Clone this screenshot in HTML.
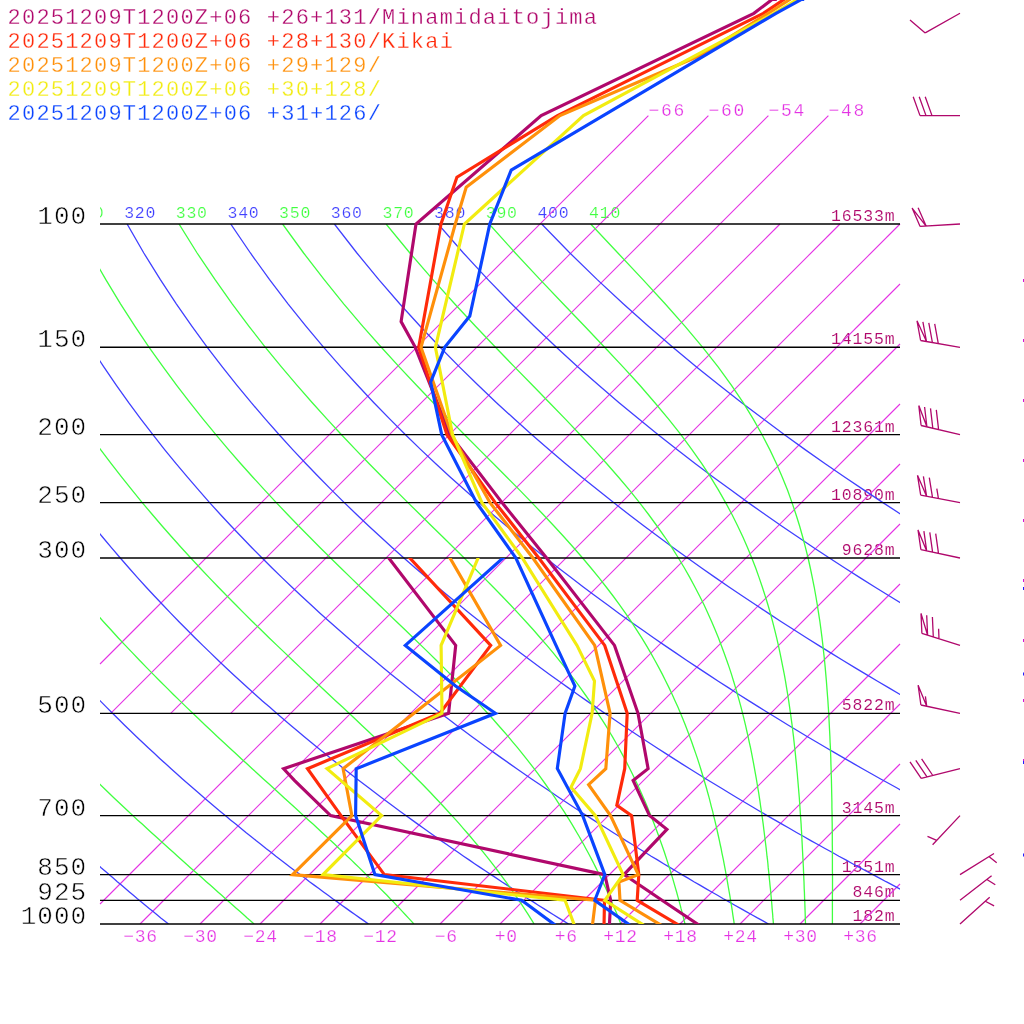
<!DOCTYPE html><html><head><meta charset="utf-8"><title>skewt</title>
<style>html,body{margin:0;padding:0;background:#fff;overflow:hidden}svg{display:block;will-change:transform}text{font-family:"Liberation Mono",monospace;}</style></head><body>
<svg width="1024" height="1024" viewBox="0 0 1024 1024">
<rect width="1024" height="1024" fill="#fff"/>
<defs><clipPath id="box"><rect x="100" y="224" width="800" height="700"/></clipPath><clipPath id="lab"><rect x="100" y="190" width="800" height="40"/></clipPath></defs>
<g clip-path="url(#lab)" font-size="16.5" letter-spacing="0.75" stroke="#fff" stroke-width="0.2"><text x="72.5" y="218" fill="#40ff40">310</text><text x="124.2" y="218" fill="#4040ff">320</text><text x="175.8" y="218" fill="#40ff40">330</text><text x="227.5" y="218" fill="#4040ff">340</text><text x="279.1" y="218" fill="#40ff40">350</text><text x="330.8" y="218" fill="#4040ff">360</text><text x="382.5" y="218" fill="#40ff40">370</text><text x="434.1" y="218" fill="#4040ff">380</text><text x="485.8" y="218" fill="#40ff40">390</text><text x="537.4" y="218" fill="#4040ff">400</text><text x="589.1" y="218" fill="#40ff40">410</text></g>
<g font-size="16.5" letter-spacing="0.85" text-anchor="end" fill="#b0086c" stroke="#fff" stroke-width="0.12"><text x="895.5" y="221.0">16533m</text><text x="895.5" y="344.3">14155m</text><text x="895.5" y="431.7">12361m</text><text x="895.5" y="499.6">10890m</text><text x="895.5" y="555.0">9628m</text><text x="895.5" y="710.3">5822m</text><text x="895.5" y="812.6">3145m</text><text x="895.5" y="871.6">1551m</text><text x="895.5" y="897.3">846m</text><text x="895.5" y="921.0">182m</text></g>
<g fill="none" stroke="#e432e4" stroke-width="1.1"><line x1="100.0" y1="664.0" x2="648.4" y2="115.6"/><line x1="110.7" y1="713.3" x2="708.4" y2="115.6"/><line x1="170.7" y1="713.3" x2="768.4" y2="115.6"/><line x1="230.7" y1="713.3" x2="828.4" y2="115.6"/><line x1="100.0" y1="904.0" x2="780.0" y2="224.0"/><line x1="140.0" y1="924.0" x2="840.0" y2="224.0"/><line x1="200.0" y1="924.0" x2="900.0" y2="224.0"/><line x1="260.0" y1="924.0" x2="900.0" y2="284.0"/><line x1="320.0" y1="924.0" x2="900.0" y2="344.0"/><line x1="380.0" y1="924.0" x2="900.0" y2="404.0"/><line x1="440.0" y1="924.0" x2="900.0" y2="464.0"/><line x1="500.0" y1="924.0" x2="900.0" y2="524.0"/><line x1="560.0" y1="924.0" x2="900.0" y2="584.0"/><line x1="620.0" y1="924.0" x2="900.0" y2="644.0"/><line x1="680.0" y1="924.0" x2="900.0" y2="704.0"/><line x1="740.0" y1="924.0" x2="900.0" y2="764.0"/><line x1="800.0" y1="924.0" x2="900.0" y2="824.0"/><line x1="860.0" y1="924.0" x2="900.0" y2="884.0"/></g>
<g clip-path="url(#box)" fill="none" stroke="#4040ff" stroke-width="1.3"><polyline points="-287.6,224.0 -282.2,253.0 -276.5,279.4 -270.6,303.8 -264.5,326.3 -258.2,347.3 -251.9,366.9 -245.5,385.3 -239.0,402.7 -232.6,419.1 -226.2,434.7 -219.7,449.6 -213.3,463.7 -207.0,477.2 -200.6,490.1 -194.3,502.6 -188.0,514.5 -181.8,526.0 -175.6,537.0 -169.5,547.7 -163.4,558.0 -157.4,568.0 -151.4,577.6 -145.5,587.0 -139.6,596.0 -133.7,604.8 -127.9,613.4 -122.2,621.7 -116.5,629.8 -110.8,637.7 -105.2,645.4 -99.7,652.9 -94.2,660.3 -88.7,667.4 -83.3,674.4 -77.9,681.2 -72.5,687.9 -67.2,694.5 -62.0,700.9 -56.7,707.1 -51.6,713.3 -46.4,719.3 -41.3,725.2 -36.3,731.0 -31.2,736.7 -26.2,742.3 -21.3,747.7 -16.4,753.1 -11.5,758.4 -6.6,763.6 -1.8,768.7 3.0,773.7 7.7,778.7 12.5,783.5 17.1,788.3 21.8,793.0 26.4,797.7 31.0,802.3 35.6,806.8 40.1,811.2 44.6,815.6 49.1,819.9 53.6,824.1 58.0,828.3 62.4,832.5 66.8,836.5 71.1,840.6 75.4,844.5 79.7,848.5 84.0,852.3 88.3,856.2 92.5,859.9 96.7,863.7 100.8,867.4 105.0,871.0 109.1,874.6 113.2,878.1 117.3,881.7 121.4,885.1 125.4,888.6 129.4,892.0 133.4,895.3 137.4,898.7 141.4,901.9 145.3,905.2 149.2,908.4 153.1,911.6 157.0,914.7 160.8,917.9 164.7,920.9 168.5,924.0"/><polyline points="-183.9,224.0 -175.7,253.0 -167.3,279.4 -158.9,303.8 -150.4,326.3 -141.8,347.3 -133.3,366.9 -124.9,385.3 -116.4,402.7 -108.1,419.1 -99.8,434.7 -91.6,449.6 -83.5,463.7 -75.5,477.2 -67.5,490.1 -59.7,502.6 -51.9,514.5 -44.2,526.0 -36.6,537.0 -29.0,547.7 -21.6,558.0 -14.2,568.0 -6.9,577.6 0.3,587.0 7.4,596.0 14.5,604.8 21.5,613.4 28.4,621.7 35.2,629.8 42.0,637.7 48.7,645.4 55.4,652.9 62.0,660.3 68.5,667.4 75.0,674.4 81.4,681.2 87.7,687.9 94.0,694.5 100.2,700.9 106.4,707.1 112.5,713.3 118.6,719.3 124.6,725.2 130.6,731.0 136.5,736.7 142.4,742.3 148.2,747.7 154.0,753.1 159.7,758.4 165.4,763.6 171.1,768.7 176.7,773.7 182.2,778.7 187.7,783.5 193.2,788.3 198.7,793.0 204.1,797.7 209.4,802.3 214.7,806.8 220.0,811.2 225.3,815.6 230.5,819.9 235.7,824.1 240.8,828.3 245.9,832.5 251.0,836.5 256.0,840.6 261.1,844.5 266.0,848.5 271.0,852.3 275.9,856.2 280.8,859.9 285.7,863.7 290.5,867.4 295.3,871.0 300.1,874.6 304.8,878.1 309.5,881.7 314.2,885.1 318.9,888.6 323.5,892.0 328.1,895.3 332.7,898.7 337.3,901.9 341.8,905.2 346.3,908.4 350.8,911.6 355.3,914.7 359.7,917.9 364.1,920.9 368.5,924.0"/><polyline points="-80.2,224.0 -69.2,253.0 -58.1,279.4 -47.2,303.8 -36.2,326.3 -25.5,347.3 -14.8,366.9 -4.2,385.3 6.1,402.7 16.4,419.1 26.5,434.7 36.5,449.6 46.3,463.7 56.0,477.2 65.6,490.1 75.0,502.6 84.3,514.5 93.5,526.0 102.5,537.0 111.4,547.7 120.3,558.0 129.0,568.0 137.5,577.6 146.0,587.0 154.4,596.0 162.7,604.8 170.9,613.4 179.0,621.7 187.0,629.8 194.9,637.7 202.7,645.4 210.5,652.9 218.1,660.3 225.7,667.4 233.2,674.4 240.6,681.2 248.0,687.9 255.2,694.5 262.4,700.9 269.6,707.1 276.6,713.3 283.6,719.3 290.6,725.2 297.5,731.0 304.3,736.7 311.0,742.3 317.7,747.7 324.3,753.1 330.9,758.4 337.5,763.6 343.9,768.7 350.3,773.7 356.7,778.7 363.0,783.5 369.3,788.3 375.5,793.0 381.7,797.7 387.8,802.3 393.9,806.8 399.9,811.2 405.9,815.6 411.9,819.9 417.8,824.1 423.6,828.3 429.5,832.5 435.2,836.5 441.0,840.6 446.7,844.5 452.4,848.5 458.0,852.3 463.6,856.2 469.1,859.9 474.6,863.7 480.1,867.4 485.6,871.0 491.0,874.6 496.4,878.1 501.7,881.7 507.0,885.1 512.3,888.6 517.6,892.0 522.8,895.3 528.0,898.7 533.2,901.9 538.3,905.2 543.4,908.4 548.5,911.6 553.5,914.7 558.5,917.9 563.5,920.9 568.5,924.0"/><polyline points="23.4,224.0 37.3,253.0 51.0,279.4 64.6,303.8 77.9,326.3 90.9,347.3 103.8,366.9 116.4,385.3 128.7,402.7 140.9,419.1 152.9,434.7 164.6,449.6 176.1,463.7 187.5,477.2 198.7,490.1 209.6,502.6 220.4,514.5 231.1,526.0 241.6,537.0 251.9,547.7 262.1,558.0 272.1,568.0 282.0,577.6 291.8,587.0 301.4,596.0 310.9,604.8 320.3,613.4 329.6,621.7 338.7,629.8 347.8,637.7 356.7,645.4 365.5,652.9 374.3,660.3 382.9,667.4 391.4,674.4 399.9,681.2 408.2,687.9 416.5,694.5 424.6,700.9 432.7,707.1 440.7,713.3 448.7,719.3 456.5,725.2 464.3,731.0 472.0,736.7 479.6,742.3 487.2,747.7 494.7,753.1 502.1,758.4 509.5,763.6 516.8,768.7 524.0,773.7 531.2,778.7 538.3,783.5 545.4,788.3 552.4,793.0 559.3,797.7 566.2,802.3 573.0,806.8 579.8,811.2 586.6,815.6 593.2,819.9 599.9,824.1 606.5,828.3 613.0,832.5 619.5,836.5 625.9,840.6 632.3,844.5 638.7,848.5 645.0,852.3 651.2,856.2 657.5,859.9 663.6,863.7 669.8,867.4 675.9,871.0 681.9,874.6 688.0,878.1 693.9,881.7 699.9,885.1 705.8,888.6 711.7,892.0 717.5,895.3 723.3,898.7 729.1,901.9 734.8,905.2 740.5,908.4 746.2,911.6 751.8,914.7 757.4,917.9 763.0,920.9 768.5,924.0"/><polyline points="127.1,224.0 143.8,253.0 160.2,279.4 176.3,303.8 192.0,326.3 207.3,347.3 222.3,366.9 237.0,385.3 251.3,402.7 265.4,419.1 279.2,434.7 292.7,449.6 306.0,463.7 319.0,477.2 331.7,490.1 344.3,502.6 356.6,514.5 368.7,526.0 380.7,537.0 392.4,547.7 403.9,558.0 415.3,568.0 426.5,577.6 437.5,587.0 448.4,596.0 459.1,604.8 469.7,613.4 480.2,621.7 490.5,629.8 500.6,637.7 510.7,645.4 520.6,652.9 530.4,660.3 540.1,667.4 549.6,674.4 559.1,681.2 568.4,687.9 577.7,694.5 586.8,700.9 595.9,707.1 604.8,713.3 613.7,719.3 622.5,725.2 631.2,731.0 639.8,736.7 648.3,742.3 656.7,747.7 665.1,753.1 673.3,758.4 681.5,763.6 689.7,768.7 697.7,773.7 705.7,778.7 713.6,783.5 721.5,788.3 729.2,793.0 737.0,797.7 744.6,802.3 752.2,806.8 759.7,811.2 767.2,815.6 774.6,819.9 782.0,824.1 789.3,828.3 796.5,832.5 803.7,836.5 810.8,840.6 817.9,844.5 825.0,848.5 832.0,852.3 838.9,856.2 845.8,859.9 852.6,863.7 859.4,867.4 866.2,871.0 872.9,874.6 879.5,878.1 886.1,881.7 892.7,885.1 899.2,888.6 905.7,892.0 912.2,895.3 918.6,898.7 925.0,901.9 931.3,905.2 937.6,908.4 943.8,911.6 950.1,914.7 956.2,917.9 962.4,920.9 968.5,924.0"/><polyline points="230.7,224.0 250.4,253.0 269.4,279.4 288.0,303.8 306.1,326.3 323.7,347.3 340.8,366.9 357.6,385.3 373.9,402.7 389.9,419.1 405.5,434.7 420.8,449.6 435.8,463.7 450.4,477.2 464.8,490.1 478.9,502.6 492.8,514.5 506.4,526.0 519.7,537.0 532.9,547.7 545.8,558.0 558.5,568.0 571.0,577.6 583.3,587.0 595.4,596.0 607.4,604.8 619.1,613.4 630.7,621.7 642.2,629.8 653.5,637.7 664.6,645.4 675.7,652.9 686.5,660.3 697.3,667.4 707.9,674.4 718.3,681.2 728.7,687.9 738.9,694.5 749.0,700.9 759.0,707.1 768.9,713.3 778.7,719.3 788.4,725.2 798.0,731.0 807.5,736.7 816.9,742.3 826.2,747.7 835.4,753.1 844.5,758.4 853.6,763.6 862.5,768.7 871.4,773.7 880.2,778.7 888.9,783.5 897.5,788.3 906.1,793.0 914.6,797.7 923.0,802.3 931.4,806.8 939.6,811.2 947.8,815.6 956.0,819.9 964.1,824.1 972.1,828.3 980.0,832.5 987.9,836.5 995.8,840.6 1003.6,844.5 1011.3,848.5 1018.9,852.3 1026.5,856.2 1034.1,859.9 1041.6,863.7 1049.1,867.4 1056.5,871.0 1063.8,874.6 1071.1,878.1 1078.3,881.7 1085.5,885.1 1092.7,888.6 1099.8,892.0 1106.9,895.3 1113.9,898.7 1120.9,901.9 1127.8,905.2 1134.7,908.4 1141.5,911.6 1148.3,914.7 1155.1,917.9 1161.8,920.9 1168.5,924.0"/><polyline points="334.4,224.0 356.9,253.0 378.6,279.4 399.7,303.8 420.2,326.3 440.1,347.3 459.4,366.9 478.2,385.3 496.5,402.7 514.4,419.1 531.9,434.7 548.9,449.6 565.6,463.7 581.9,477.2 597.9,490.1 613.6,502.6 628.9,514.5 644.0,526.0 658.8,537.0 673.3,547.7 687.6,558.0 701.6,568.0 715.4,577.6 729.0,587.0 742.4,596.0 755.6,604.8 768.6,613.4 781.3,621.7 793.9,629.8 806.4,637.7 818.6,645.4 830.7,652.9 842.7,660.3 854.4,667.4 866.1,674.4 877.6,681.2 888.9,687.9 900.1,694.5 911.2,700.9 922.2,707.1 933.0,713.3 943.8,719.3 954.4,725.2 964.9,731.0 975.2,736.7 985.5,742.3 995.7,747.7 1005.8,753.1 1015.7,758.4 1025.6,763.6 1035.4,768.7 1045.1,773.7 1054.7,778.7 1064.2,783.5 1073.6,788.3 1083.0,793.0 1092.2,797.7 1101.4,802.3 1110.5,806.8 1119.5,811.2 1128.5,815.6 1137.4,819.9 1146.2,824.1 1154.9,828.3 1163.6,832.5 1172.2,836.5 1180.7,840.6 1189.2,844.5 1197.6,848.5 1205.9,852.3 1214.2,856.2 1222.4,859.9 1230.6,863.7 1238.7,867.4 1246.7,871.0 1254.7,874.6 1262.7,878.1 1270.6,881.7 1278.4,885.1 1286.2,888.6 1293.9,892.0 1301.6,895.3 1309.2,898.7 1316.8,901.9 1324.3,905.2 1331.8,908.4 1339.2,911.6 1346.6,914.7 1353.9,917.9 1361.2,920.9 1368.5,924.0"/><polyline points="438.1,224.0 463.4,253.0 487.8,279.4 511.5,303.8 534.3,326.3 556.4,347.3 577.9,366.9 598.8,385.3 619.1,402.7 638.9,419.1 658.2,434.7 677.0,449.6 695.4,463.7 713.4,477.2 731.0,490.1 748.2,502.6 765.1,514.5 781.6,526.0 797.9,537.0 813.8,547.7 829.4,558.0 844.8,568.0 859.9,577.6 874.8,587.0 889.4,596.0 903.8,604.8 918.0,613.4 931.9,621.7 945.7,629.8 959.2,637.7 972.6,645.4 985.8,652.9 998.8,660.3 1011.6,667.4 1024.3,674.4 1036.8,681.2 1049.2,687.9 1061.4,694.5 1073.4,700.9 1085.4,707.1 1097.1,713.3 1108.8,719.3 1120.3,725.2 1131.7,731.0 1143.0,736.7 1154.2,742.3 1165.2,747.7 1176.1,753.1 1186.9,758.4 1197.7,763.6 1208.3,768.7 1218.8,773.7 1229.2,778.7 1239.5,783.5 1249.7,788.3 1259.8,793.0 1269.9,797.7 1279.8,802.3 1289.7,806.8 1299.4,811.2 1309.1,815.6 1318.7,819.9 1328.3,824.1 1337.7,828.3 1347.1,832.5 1356.4,836.5 1365.6,840.6 1374.8,844.5 1383.9,848.5 1392.9,852.3 1401.9,856.2 1410.8,859.9 1419.6,863.7 1428.3,867.4 1437.0,871.0 1445.7,874.6 1454.2,878.1 1462.8,881.7 1471.2,885.1 1479.6,888.6 1488.0,892.0 1496.2,895.3 1504.5,898.7 1512.7,901.9 1520.8,905.2 1528.9,908.4 1536.9,911.6 1544.9,914.7 1552.8,917.9 1560.7,920.9 1568.5,924.0"/><polyline points="541.7,224.0 569.9,253.0 597.0,279.4 623.2,303.8 648.4,326.3 672.8,347.3 696.5,366.9 719.4,385.3 741.7,402.7 763.4,419.1 784.5,434.7 805.1,449.6 825.2,463.7 844.9,477.2 864.1,490.1 882.9,502.6 901.3,514.5 919.3,526.0 936.9,537.0 954.3,547.7 971.3,558.0 988.0,568.0 1004.4,577.6 1020.5,587.0 1036.4,596.0 1052.0,604.8 1067.4,613.4 1082.5,621.7 1097.4,629.8 1112.1,637.7 1126.6,645.4 1140.8,652.9 1154.9,660.3 1168.8,667.4 1182.5,674.4 1196.1,681.2 1209.4,687.9 1222.6,694.5 1235.6,700.9 1248.5,707.1 1261.2,713.3 1273.8,719.3 1286.3,725.2 1298.6,731.0 1310.7,736.7 1322.8,742.3 1334.7,747.7 1346.5,753.1 1358.1,758.4 1369.7,763.6 1381.1,768.7 1392.5,773.7 1403.7,778.7 1414.8,783.5 1425.8,788.3 1436.7,793.0 1447.5,797.7 1458.2,802.3 1468.8,806.8 1479.3,811.2 1489.8,815.6 1500.1,819.9 1510.4,824.1 1520.5,828.3 1530.6,832.5 1540.6,836.5 1550.6,840.6 1560.4,844.5 1570.2,848.5 1579.9,852.3 1589.5,856.2 1599.1,859.9 1608.6,863.7 1618.0,867.4 1627.3,871.0 1636.6,874.6 1645.8,878.1 1655.0,881.7 1664.1,885.1 1673.1,888.6 1682.0,892.0 1690.9,895.3 1699.8,898.7 1708.6,901.9 1717.3,905.2 1726.0,908.4 1734.6,911.6 1743.1,914.7 1751.6,917.9 1760.1,920.9 1768.5,924.0"/></g>
<g clip-path="url(#box)" fill="none" stroke="#40ff40" stroke-width="1.3"><polyline points="-31.5,224.0 -60.5,253.0 -86.9,279.4 -111.3,303.8 -133.8,326.3 -154.8,347.3 -174.4,366.9 -185.1,385.3 -177.7,402.7 -170.3,419.1 -163.0,434.7 -155.6,449.6 -148.4,463.7 -141.2,477.2 -134.0,490.1 -127.0,502.6 -119.9,514.5 -113.0,526.0 -106.1,537.0 -99.2,547.7 -92.5,558.0 -85.8,568.0 -79.1,577.6 -72.6,587.0 -66.1,596.0 -59.6,604.8 -53.2,613.4 -46.9,621.7 -40.6,629.8 -34.4,637.7 -28.3,645.4 -22.2,652.9 -16.1,660.3 -10.1,667.4 -4.2,674.4 1.7,681.2 7.5,687.9 13.3,694.5 19.0,700.9 24.7,707.1 30.3,713.3 35.8,719.3 41.4,725.2 46.8,731.0 52.3,736.7 57.7,742.3 63.0,747.7 68.3,753.1 73.5,758.4 78.7,763.6 83.9,768.7 89.0,773.7 94.0,778.7 99.0,783.5 104.0,788.3 108.9,793.0 113.8,797.7 118.6,802.3 123.4,806.8 128.2,811.2 132.9,815.6 137.5,819.9 142.2,824.1 146.7,828.3 151.3,832.5 155.8,836.5 160.2,840.6 164.6,844.5 169.0,848.5 173.3,852.3 177.6,856.2 181.8,859.9 186.0,863.7 190.1,867.4 194.2,871.0 198.3,874.6 202.3,878.1 206.3,881.7 210.2,885.1 214.1,888.6 217.9,892.0 221.7,895.3 225.5,898.7 229.2,901.9 232.9,905.2 236.5,908.4 240.1,911.6 243.7,914.7 247.2,917.9 250.7,920.9 254.1,924.0"/><polyline points="-31.5,224.0 -60.5,253.0 -86.9,279.4 -103.0,303.8 -93.3,326.3 -83.6,347.3 -74.0,366.9 -64.5,385.3 -55.1,402.7 -45.8,419.1 -36.6,434.7 -27.5,449.6 -18.6,463.7 -9.7,477.2 -1.0,490.1 7.7,502.6 16.2,514.5 24.6,526.0 33.0,537.0 41.2,547.7 49.3,558.0 57.3,568.0 65.3,577.6 73.1,587.0 80.8,596.0 88.5,604.8 96.0,613.4 103.5,621.7 110.9,629.8 118.1,637.7 125.3,645.4 132.5,652.9 139.5,660.3 146.4,667.4 153.3,674.4 160.1,681.2 166.8,687.9 173.4,694.5 180.0,700.9 186.4,707.1 192.8,713.3 199.1,719.3 205.3,725.2 211.5,731.0 217.5,736.7 223.5,742.3 229.4,747.7 235.2,753.1 241.0,758.4 246.6,763.6 252.2,768.7 257.7,773.7 263.1,778.7 268.5,783.5 273.7,788.3 278.9,793.0 284.0,797.7 289.0,802.3 294.0,806.8 298.9,811.2 303.6,815.6 308.3,819.9 313.0,824.1 317.5,828.3 322.0,832.5 326.4,836.5 330.7,840.6 335.0,844.5 339.1,848.5 343.2,852.3 347.3,856.2 351.2,859.9 355.1,863.7 358.9,867.4 362.6,871.0 366.3,874.6 369.9,878.1 373.5,881.7 376.9,885.1 380.3,888.6 383.7,892.0 387.0,895.3 390.2,898.7 393.4,901.9 396.5,905.2 399.5,908.4 402.5,911.6 405.4,914.7 408.3,917.9 411.1,920.9 413.9,924.0"/><polyline points="-28.4,224.0 -15.9,253.0 -3.5,279.4 8.7,303.8 20.8,326.3 32.8,347.3 44.5,366.9 56.1,385.3 67.5,402.7 78.7,419.1 89.7,434.7 100.6,449.6 111.2,463.7 121.7,477.2 132.1,490.1 142.2,502.6 152.3,514.5 162.1,526.0 171.8,537.0 181.4,547.7 190.8,558.0 200.1,568.0 209.2,577.6 218.2,587.0 227.0,596.0 235.7,604.8 244.2,613.4 252.6,621.7 260.9,629.8 269.0,637.7 277.0,645.4 284.9,652.9 292.6,660.3 300.1,667.4 307.6,674.4 314.8,681.2 322.0,687.9 328.9,694.5 335.8,700.9 342.5,707.1 349.1,713.3 355.5,719.3 361.7,725.2 367.9,731.0 373.9,736.7 379.7,742.3 385.4,747.7 391.0,753.1 396.5,758.4 401.8,763.6 406.9,768.7 412.0,773.7 416.9,778.7 421.7,783.5 426.3,788.3 430.9,793.0 435.3,797.7 439.6,802.3 443.8,806.8 447.9,811.2 451.9,815.6 455.8,819.9 459.6,824.1 463.2,828.3 466.8,832.5 470.3,836.5 473.7,840.6 477.0,844.5 480.2,848.5 483.4,852.3 486.4,856.2 489.4,859.9 492.3,863.7 495.2,867.4 497.9,871.0 500.6,874.6 503.2,878.1 505.8,881.7 508.3,885.1 510.7,888.6 513.1,892.0 515.4,895.3 517.7,898.7 519.9,901.9 522.1,905.2 524.2,908.4 526.3,911.6 528.3,914.7 530.3,917.9 532.2,920.9 534.1,924.0"/><polyline points="75.3,224.0 90.6,253.0 105.7,279.4 120.5,303.8 135.0,326.3 149.1,347.3 163.1,366.9 176.7,385.3 190.0,402.7 203.1,419.1 215.9,434.7 228.5,449.6 240.8,463.7 252.9,477.2 264.7,490.1 276.3,502.6 287.6,514.5 298.7,526.0 309.6,537.0 320.2,547.7 330.6,558.0 340.8,568.0 350.7,577.6 360.3,587.0 369.8,596.0 378.9,604.8 387.9,613.4 396.6,621.7 405.0,629.8 413.2,637.7 421.1,645.4 428.8,652.9 436.3,660.3 443.5,667.4 450.5,674.4 457.2,681.2 463.7,687.9 470.0,694.5 476.1,700.9 482.0,707.1 487.6,713.3 493.1,719.3 498.3,725.2 503.4,731.0 508.3,736.7 513.0,742.3 517.5,747.7 521.9,753.1 526.1,758.4 530.2,763.6 534.1,768.7 537.9,773.7 541.5,778.7 545.0,783.5 548.4,788.3 551.7,793.0 554.9,797.7 558.0,802.3 560.9,806.8 563.8,811.2 566.6,815.6 569.3,819.9 571.9,824.1 574.4,828.3 576.8,832.5 579.2,836.5 581.5,840.6 583.7,844.5 585.8,848.5 587.9,852.3 590.0,856.2 591.9,859.9 593.9,863.7 595.7,867.4 597.5,871.0 599.3,874.6 601.0,878.1 602.7,881.7 604.3,885.1 605.9,888.6 607.4,892.0 608.9,895.3 610.4,898.7 611.8,901.9 613.2,905.2 614.5,908.4 615.9,911.6 617.2,914.7 618.4,917.9 619.7,920.9 620.9,924.0"/><polyline points="179.0,224.0 197.1,253.0 214.9,279.4 232.2,303.8 249.0,326.3 265.4,347.3 281.4,366.9 297.1,385.3 312.3,402.7 327.1,419.1 341.5,434.7 355.6,449.6 369.2,463.7 382.5,477.2 395.4,490.1 407.9,502.6 420.0,514.5 431.6,526.0 442.9,537.0 453.8,547.7 464.2,558.0 474.2,568.0 483.8,577.6 493.1,587.0 501.9,596.0 510.3,604.8 518.3,613.4 526.0,621.7 533.3,629.8 540.2,637.7 546.9,645.4 553.2,652.9 559.2,660.3 564.9,667.4 570.3,674.4 575.5,681.2 580.4,687.9 585.1,694.5 589.6,700.9 593.8,707.1 597.9,713.3 601.8,719.3 605.5,725.2 609.0,731.0 612.4,736.7 615.6,742.3 618.7,747.7 621.6,753.1 624.5,758.4 627.2,763.6 629.8,768.7 632.3,773.7 634.7,778.7 637.0,783.5 639.2,788.3 641.3,793.0 643.4,797.7 645.4,802.3 647.3,806.8 649.1,811.2 650.9,815.6 652.6,819.9 654.2,824.1 655.8,828.3 657.4,832.5 658.9,836.5 660.3,840.6 661.7,844.5 663.1,848.5 664.4,852.3 665.7,856.2 666.9,859.9 668.1,863.7 669.3,867.4 670.4,871.0 671.5,874.6 672.6,878.1 673.6,881.7 674.6,885.1 675.6,888.6 676.6,892.0 677.5,895.3 678.4,898.7 679.3,901.9 680.2,905.2 681.0,908.4 681.9,911.6 682.7,914.7 683.5,917.9 684.2,920.9 685.0,924.0"/><polyline points="282.6,224.0 303.6,253.0 324.0,279.4 343.7,303.8 362.8,326.3 381.3,347.3 399.2,366.9 416.5,385.3 433.2,402.7 449.2,419.1 464.6,434.7 479.4,449.6 493.5,463.7 506.9,477.2 519.7,490.1 531.8,502.6 543.2,514.5 554.0,526.0 564.1,537.0 573.7,547.7 582.6,558.0 591.0,568.0 598.9,577.6 606.2,587.0 613.1,596.0 619.6,604.8 625.6,613.4 631.3,621.7 636.6,629.8 641.6,637.7 646.3,645.4 650.7,652.9 654.8,660.3 658.7,667.4 662.4,674.4 665.8,681.2 669.1,687.9 672.2,694.5 675.1,700.9 677.9,707.1 680.5,713.3 683.0,719.3 685.4,725.2 687.6,731.0 689.8,736.7 691.8,742.3 693.7,747.7 695.6,753.1 697.4,758.4 699.1,763.6 700.7,768.7 702.2,773.7 703.7,778.7 705.1,783.5 706.5,788.3 707.8,793.0 709.1,797.7 710.3,802.3 711.4,806.8 712.6,811.2 713.6,815.6 714.7,819.9 715.7,824.1 716.7,828.3 717.6,832.5 718.5,836.5 719.4,840.6 720.2,844.5 721.1,848.5 721.8,852.3 722.6,856.2 723.4,859.9 724.1,863.7 724.8,867.4 725.5,871.0 726.1,874.6 726.8,878.1 727.4,881.7 728.0,885.1 728.6,888.6 729.2,892.0 729.8,895.3 730.3,898.7 730.8,901.9 731.4,905.2 731.9,908.4 732.4,911.6 732.8,914.7 733.3,917.9 733.8,920.9 734.2,924.0"/><polyline points="386.1,224.0 409.9,253.0 432.7,279.4 454.6,303.8 475.5,326.3 495.5,347.3 514.5,366.9 532.5,385.3 549.5,402.7 565.4,419.1 580.2,434.7 594.0,449.6 606.8,463.7 618.6,477.2 629.5,490.1 639.5,502.6 648.6,514.5 657.0,526.0 664.8,537.0 671.9,547.7 678.4,558.0 684.4,568.0 689.9,577.6 694.9,587.0 699.6,596.0 704.0,604.8 708.0,613.4 711.7,621.7 715.1,629.8 718.4,637.7 721.3,645.4 724.1,652.9 726.7,660.3 729.2,667.4 731.5,674.4 733.6,681.2 735.6,687.9 737.5,694.5 739.3,700.9 741.0,707.1 742.6,713.3 744.1,719.3 745.5,725.2 746.8,731.0 748.1,736.7 749.3,742.3 750.5,747.7 751.6,753.1 752.6,758.4 753.6,763.6 754.5,768.7 755.4,773.7 756.3,778.7 757.1,783.5 757.9,788.3 758.7,793.0 759.4,797.7 760.1,802.3 760.7,806.8 761.4,811.2 762.0,815.6 762.6,819.9 763.2,824.1 763.7,828.3 764.2,832.5 764.7,836.5 765.2,840.6 765.7,844.5 766.2,848.5 766.6,852.3 767.0,856.2 767.5,859.9 767.9,863.7 768.2,867.4 768.6,871.0 769.0,874.6 769.3,878.1 769.7,881.7 770.0,885.1 770.4,888.6 770.7,892.0 771.0,895.3 771.3,898.7 771.6,901.9 771.9,905.2 772.1,908.4 772.4,911.6 772.7,914.7 772.9,917.9 773.2,920.9 773.4,924.0"/><polyline points="489.2,224.0 515.3,253.0 539.9,279.4 563.1,303.8 584.7,326.3 604.6,347.3 623.0,366.9 639.8,385.3 654.9,402.7 668.6,419.1 680.9,434.7 691.9,449.6 701.8,463.7 710.6,477.2 718.5,490.1 725.6,502.6 732.0,514.5 737.7,526.0 742.9,537.0 747.6,547.7 751.8,558.0 755.7,568.0 759.1,577.6 762.3,587.0 765.2,596.0 767.9,604.8 770.4,613.4 772.6,621.7 774.7,629.8 776.6,637.7 778.4,645.4 780.0,652.9 781.5,660.3 782.9,667.4 784.3,674.4 785.5,681.2 786.6,687.9 787.7,694.5 788.7,700.9 789.6,707.1 790.5,713.3 791.3,719.3 792.1,725.2 792.8,731.0 793.5,736.7 794.1,742.3 794.7,747.7 795.3,753.1 795.8,758.4 796.4,763.6 796.8,768.7 797.3,773.7 797.7,778.7 798.1,783.5 798.5,788.3 798.9,793.0 799.3,797.7 799.6,802.3 799.9,806.8 800.2,811.2 800.5,815.6 800.8,819.9 801.1,824.1 801.3,828.3 801.6,832.5 801.8,836.5 802.0,840.6 802.2,844.5 802.4,848.5 802.6,852.3 802.8,856.2 803.0,859.9 803.2,863.7 803.4,867.4 803.5,871.0 803.7,874.6 803.8,878.1 804.0,881.7 804.1,885.1 804.2,888.6 804.4,892.0 804.5,895.3 804.6,898.7 804.8,901.9 804.9,905.2 805.0,908.4 805.1,911.6 805.2,914.7 805.3,917.9 805.4,920.9 805.5,924.0"/><polyline points="590.7,224.0 617.9,253.0 642.7,279.4 665.1,303.8 685.1,326.3 702.7,347.3 718.1,366.9 731.5,385.3 743.2,402.7 753.3,419.1 762.1,434.7 769.8,449.6 776.5,463.7 782.3,477.2 787.5,490.1 792.0,502.6 796.0,514.5 799.6,526.0 802.7,537.0 805.5,547.7 808.1,558.0 810.3,568.0 812.3,577.6 814.2,587.0 815.8,596.0 817.3,604.8 818.6,613.4 819.9,621.7 821.0,629.8 822.0,637.7 822.9,645.4 823.7,652.9 824.5,660.3 825.2,667.4 825.8,674.4 826.4,681.2 826.9,687.9 827.4,694.5 827.9,700.9 828.3,707.1 828.7,713.3 829.0,719.3 829.3,725.2 829.6,731.0 829.9,736.7 830.1,742.3 830.4,747.7 830.6,753.1 830.8,758.4 830.9,763.6 831.1,768.7 831.2,773.7 831.4,778.7 831.5,783.5 831.6,788.3 831.7,793.0 831.8,797.7 831.9,802.3 831.9,806.8 832.0,811.2 832.1,815.6 832.1,819.9 832.2,824.1 832.2,828.3 832.3,832.5 832.3,836.5 832.3,840.6 832.3,844.5 832.4,848.5 832.4,852.3 832.4,856.2 832.4,859.9 832.4,863.7 832.4,867.4 832.4,871.0 832.5,874.6 832.5,878.1 832.5,881.7 832.5,885.1 832.5,888.6 832.5,892.0 832.4,895.3 832.4,898.7 832.4,901.9 832.4,905.2 832.4,908.4 832.4,911.6 832.4,914.7 832.4,917.9 832.4,920.9 832.4,924.0"/></g>
<g stroke="#000" stroke-width="1.3"><line x1="100" y1="224.00" x2="900" y2="224.00"/><line x1="100" y1="347.26" x2="900" y2="347.26"/><line x1="100" y1="434.72" x2="900" y2="434.72"/><line x1="100" y1="502.56" x2="900" y2="502.56"/><line x1="100" y1="557.98" x2="900" y2="557.98"/><line x1="100" y1="713.28" x2="900" y2="713.28"/><line x1="100" y1="815.57" x2="900" y2="815.57"/><line x1="100" y1="874.59" x2="900" y2="874.59"/><line x1="100" y1="900.30" x2="900" y2="900.30"/><line x1="100" y1="924.00" x2="900" y2="924.00"/></g>
<g font-size="26" letter-spacing="1.0" text-anchor="end" fill="#000" stroke="#fff" stroke-width="0.55"><text x="87.1" y="224.0">100</text><text x="87.1" y="347.3">150</text><text x="87.1" y="434.7">200</text><text x="87.1" y="502.6">250</text><text x="87.1" y="558.0">300</text><text x="87.1" y="713.3">500</text><text x="87.1" y="815.6">700</text><text x="87.1" y="874.6">850</text><text x="87.1" y="900.3">925</text><text x="87.1" y="924.0">1000</text></g>
<g font-size="18" letter-spacing="0.7" text-anchor="end" fill="#e432e4" stroke="#fff" stroke-width="0.25"><text x="157.8" y="942">−36</text><text x="217.8" y="942">−30</text><text x="277.8" y="942">−24</text><text x="337.8" y="942">−18</text><text x="397.8" y="942">−12</text><text x="457.8" y="942">−6</text><text x="517.8" y="942">+0</text><text x="577.8" y="942">+6</text><text x="637.8" y="942">+12</text><text x="697.8" y="942">+18</text><text x="757.8" y="942">+24</text><text x="817.8" y="942">+30</text><text x="877.8" y="942">+36</text></g>
<g font-size="18" letter-spacing="1.7" fill="#e432e4" stroke="#fff" stroke-width="0.25"><text x="648.5" y="116">−66</text><text x="708.5" y="116">−60</text><text x="768.5" y="116">−54</text><text x="828.5" y="116">−48</text></g>
<defs><clipPath id="cT"><rect x="0" y="-50" width="1024" height="974"/></clipPath><clipPath id="cD"><rect x="0" y="557.98" width="1024" height="366.02"/></clipPath></defs>
<polyline clip-path="url(#cT)" fill="none" stroke="#b0086c" stroke-width="3.15" stroke-linejoin="miter" points="797.8,-20.0 753.9,13.3 541.2,115.6 416.0,224.0 401.1,321.6 415.3,347.3 450.0,434.7 502.0,502.6 546.6,558.0 614.5,645.4 638.0,713.3 648.1,768.7 633.1,780.4 649.5,815.6 666.9,829.3 624.0,874.6 662.0,900.3 699.9,925.7"/>
<polyline clip-path="url(#cD)" fill="none" stroke="#b0086c" stroke-width="3.15" stroke-linejoin="miter" points="386.9,555.6 455.7,645.4 448.6,713.3 283.6,768.7 294.4,780.4 330.6,815.6 604.8,874.6 610.7,900.3 609.3,927.0"/>
<polyline clip-path="url(#cT)" fill="none" stroke="#ff2a0a" stroke-width="3.15" stroke-linejoin="miter" points="813.0,-20.0 763.3,13.3 557.5,115.6 456.9,177.2 441.0,224.0 418.7,347.3 447.0,434.7 495.2,502.6 538.8,558.0 604.7,645.4 627.2,713.3 624.7,768.7 616.8,805.3 631.6,815.6 638.8,874.6 637.2,900.3 679.4,925.5"/>
<polyline clip-path="url(#cD)" fill="none" stroke="#ff2a0a" stroke-width="3.15" stroke-linejoin="miter" points="407.8,555.8 490.7,645.4 440.0,713.3 307.5,768.7 341.0,815.6 384.3,874.6 604.5,900.3 604.0,927.0"/>
<polyline clip-path="url(#cT)" fill="none" stroke="#ff900a" stroke-width="3.15" stroke-linejoin="miter" points="820.0,-20.0 768.3,13.3 700.0,55.5 560.0,115.6 466.2,187.3 455.3,224.0 421.0,347.3 451.7,434.7 490.0,502.6 532.9,558.0 594.7,645.4 610.1,713.3 605.8,768.7 588.6,784.7 610.5,815.6 638.3,874.6 618.9,882.0 620.0,900.3 661.8,925.6"/>
<polyline clip-path="url(#cD)" fill="none" stroke="#ff900a" stroke-width="3.15" stroke-linejoin="miter" points="448.5,555.4 500.6,645.4 414.0,713.3 343.1,768.7 351.9,815.6 292.5,874.6 595.5,900.3 592.2,927.0"/>
<polyline clip-path="url(#cT)" fill="none" stroke="#f2ec10" stroke-width="3.15" stroke-linejoin="miter" points="830.0,-20.0 774.0,13.3 583.5,115.6 464.4,224.0 435.4,347.3 452.6,434.7 481.9,502.6 522.3,558.0 577.0,645.4 594.5,681.0 592.1,713.3 580.4,768.7 571.0,787.2 595.4,815.6 623.1,874.6 604.8,900.3 644.4,925.6"/>
<polyline clip-path="url(#cD)" fill="none" stroke="#f2ec10" stroke-width="3.15" stroke-linejoin="miter" points="479.3,555.2 441.1,645.4 442.0,713.3 327.0,768.7 381.6,815.6 323.0,874.6 565.0,900.3 575.0,926.8"/>
<polyline clip-path="url(#cT)" fill="none" stroke="#0a44ff" stroke-width="3.15" stroke-linejoin="miter" points="837.0,-20.0 776.0,13.3 603.2,115.6 511.2,170.2 489.8,224.0 469.8,316.1 444.7,347.3 430.6,382.2 441.7,434.7 476.5,502.6 515.9,558.0 556.0,645.4 574.9,686.0 565.1,713.3 557.3,768.5 582.7,815.6 604.8,874.6 594.8,900.3 630.7,925.7"/>
<polyline clip-path="url(#cD)" fill="none" stroke="#0a44ff" stroke-width="3.15" stroke-linejoin="miter" points="505.2,556.0 405.3,645.4 455.6,686.0 495.5,713.3 356.2,768.7 355.6,815.6 374.9,874.6 521.6,900.3 556.2,925.8"/>
<rect x="772" y="0" width="4.8" height="1" fill="#b0086c"/><rect x="800" y="0" width="4.2" height="1" fill="#0a44ff"/>
<path fill="none" stroke="#b0086c" stroke-width="1.3" d="M960.0,13.3 L925.2,32.9 M925.2,32.9 L910.0,19.9 M960.0,115.6 L920.0,115.6 M920.0,115.6 L913.2,96.8 M926.0,115.6 L919.2,96.8 M932.0,115.6 L925.2,96.8 M960.0,224.0 L920.1,226.4 M920.1,226.4 L912.1,208.1 L926.1,226.1 M926.1,226.1 L918.1,207.7 M960.0,347.3 L920.6,340.5 M920.6,340.5 L917.0,320.8 L926.5,341.5 M926.5,341.5 L922.9,321.9 M932.4,342.5 L928.8,322.9 M938.3,343.6 L934.7,323.9 M960.0,434.7 L921.1,425.5 M921.1,425.5 L918.8,405.6 L926.9,426.8 M926.9,426.8 L924.6,407.0 M932.8,428.2 L930.5,408.4 M938.6,429.6 L936.3,409.8 M960.0,502.6 L920.7,495.1 M920.7,495.1 L917.5,475.3 L926.6,496.2 M926.6,496.2 L923.4,476.4 M932.5,497.3 L929.3,477.6 M938.4,498.4 L936.8,488.6 M960.0,558.0 L920.9,549.7 M920.9,549.7 L918.0,529.9 L926.7,551.0 M926.7,551.0 L923.9,531.2 M932.6,552.2 L929.8,532.4 M938.5,553.4 L935.7,533.6 M960.0,645.4 L921.9,633.4 M921.9,633.4 L921.0,613.4 L927.6,635.2 M927.6,635.2 L926.7,615.2 M933.3,637.0 L932.4,617.0 M939.0,638.8 L938.6,628.8 M960.0,713.3 L920.9,705.0 M920.9,705.0 L918.1,685.2 L926.7,706.2 M926.7,706.2 L925.4,696.3 M960.0,768.7 L921.2,778.4 M921.2,778.4 L910.0,761.8 M927.0,776.9 L915.8,760.4 M932.8,775.5 L921.6,758.9 M960.0,815.6 L932.6,844.7 M936.7,840.3 L927.5,836.4 M960.0,874.6 L994.0,853.5 M988.9,856.6 L996.7,862.8 M960.0,900.3 L991.6,875.8 M986.9,879.5 L995.3,884.8 M960.0,924.0 L989.7,897.2 M985.3,901.2 L994.1,905.9"/>
<rect x="1023" y="279.0" width="1" height="3" fill="#d414d4"/><rect x="1023" y="339.0" width="1" height="3" fill="#d414d4"/><rect x="1023" y="399.0" width="1" height="3" fill="#d414d4"/><rect x="1023" y="459.0" width="1" height="3" fill="#d414d4"/><rect x="1023" y="519.0" width="1" height="3" fill="#d414d4"/><rect x="1023" y="579.0" width="1" height="3" fill="#d414d4"/><rect x="1023" y="639.0" width="1" height="3" fill="#d414d4"/><rect x="1023" y="699.0" width="1" height="3" fill="#d414d4"/><rect x="1023" y="759.0" width="1" height="3" fill="#d414d4"/><rect x="1023" y="587.0" width="1" height="3" fill="#2020ff"/><rect x="1023" y="672.5" width="1" height="3" fill="#2020ff"/><rect x="1023" y="761.0" width="1" height="3" fill="#2020ff"/><rect x="1023" y="853.5" width="1" height="3" fill="#2020ff"/>
<g font-size="22" letter-spacing="1.2" stroke="#fff" stroke-width="0.3"><text x="7.6" y="24" fill="#b0086c">20251209T1200Z+06 +26+131/Minamidaitojima</text><text x="7.6" y="48" fill="#ff2a0a">20251209T1200Z+06 +28+130/Kikai</text><text x="7.6" y="72" fill="#ff900a">20251209T1200Z+06 +29+129/</text><text x="7.6" y="96" fill="#f2ec10">20251209T1200Z+06 +30+128/</text><text x="7.6" y="120" fill="#0a44ff">20251209T1200Z+06 +31+126/</text></g>
</svg></body></html>
